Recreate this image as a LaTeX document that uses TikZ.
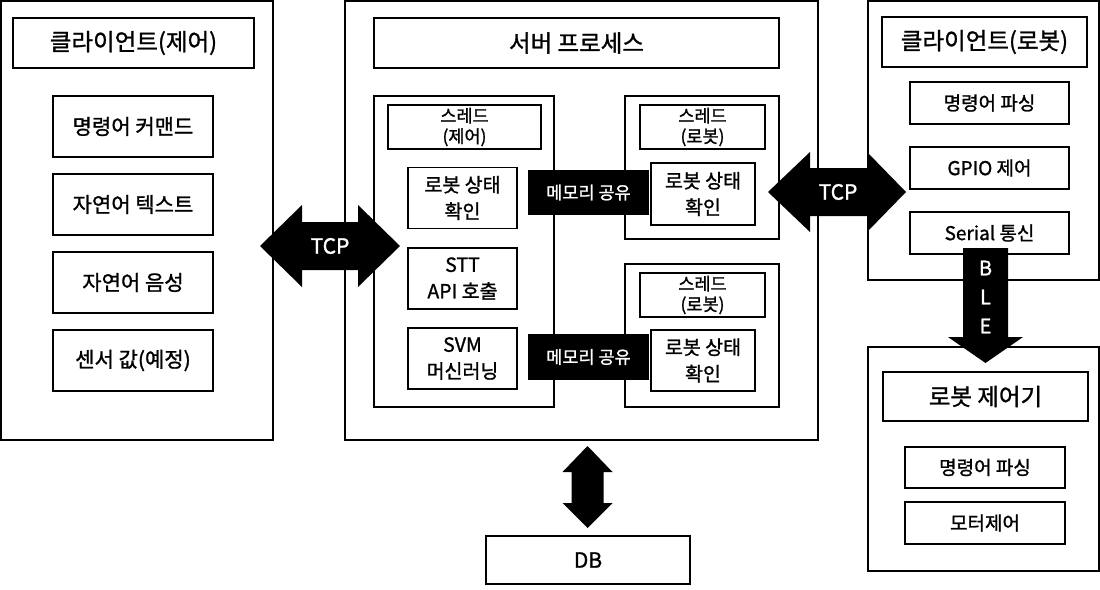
\documentclass[tikz,border=0pt]{standalone}
\usepackage{fontspec}
\setmainfont{Noto Sans CJK KR}[FakeBold=1.2]
\begin{document}
\begin{tikzpicture}[x=1pt,y=-1pt,
  box/.style={draw=black, line width=1.2pt, inner sep=0pt, align=center, fill=white},
  ttl/.style={font=\fontsize{23.5}{27}\selectfont},
  itm/.style={font=\fontsize{21}{26}\selectfont},
  sitm/.style={font=\fontsize{19.5}{26.5}\selectfont},
  hdr/.style={font=\fontsize{17.5}{20.5}\selectfont},
  ritm/.style={font=\fontsize{19}{22}\selectfont},
  mem/.style={fill=black, text=white, inner sep=0pt, font=\fontsize{17.5}{20}\selectfont},
  blk/.style={fill=black, draw=none},
  wlbl/.style={text=white, inner sep=0pt, font=\fontsize{21}{24}\selectfont}]
\useasboundingbox (0,0) rectangle (1100,589);

% ---------- left client ----------
\node[box, minimum width=272pt, minimum height=439pt] (clc) at (137,220.5) {};
\node[box, ttl, minimum width=241pt, minimum height=50pt] (clct) at (133.5,43) {클라이언트(제어)};
\node[box, itm, minimum width=160pt, minimum height=61pt] (cmd) at (133,126.5) {명령어 커맨드};
\node[box, itm, minimum width=160pt, minimum height=61pt] (txt) at (133,204.5) {자연어 텍스트};
\node[box, itm, minimum width=160pt, minimum height=61pt] (voc) at (133,282.5) {자연어 음성};
\node[box, itm, minimum width=160pt, minimum height=61pt] (sen) at (133,360.5) {센서 값(예정)};

% ---------- server ----------
\node[box, minimum width=473pt, minimum height=439pt] (srv) at (581.5,220.5) {};
\node[box, ttl, minimum width=405pt, minimum height=50pt] (srvt) at (576.5,43) {서버 프로세스};
\node[box, minimum width=180pt, minimum height=311pt] (tc) at (464,251.5) {};
\node[box, hdr, minimum width=153pt, minimum height=44pt] (tch) at (464.5,127) {스레드\\(제어)};
\node[box, sitm, minimum width=109pt, minimum height=61pt] (tc1) at (462.5,198) {로봇 상태\\확인};
\node[box, sitm, minimum width=109pt, minimum height=61pt] (tc2) at (462.5,278.5) {STT\\API 호출};
\node[box, sitm, minimum width=109pt, minimum height=61pt] (tc3) at (462.5,358.5) {SVM\\머신러닝};

\node[box, minimum width=154pt, minimum height=143pt] (tr1) at (702,167.5) {};
\node[box, hdr, minimum width=125pt, minimum height=44pt] (tr1h) at (702.5,127) {스레드\\(로봇)};
\node[box, minimum width=154pt, minimum height=143pt] (tr2) at (702,335.5) {};
\node[box, hdr, minimum width=125pt, minimum height=44pt] (tr2h) at (702.5,295) {스레드\\(로봇)};

\node[mem, minimum width=121pt, minimum height=45pt] (m1) at (588.5,192.5) {메모리 공유};
\node[mem, minimum width=121pt, minimum height=46pt] (m2) at (588.5,357) {메모리 공유};

\node[box, sitm, minimum width=104pt, minimum height=62pt] (tr1i) at (703,194) {로봇 상태\\확인};
\node[box, sitm, minimum width=104pt, minimum height=61pt] (tr2i) at (703,360.5) {로봇 상태\\확인};

% ---------- right client ----------
\node[box, minimum width=231pt, minimum height=279pt] (clr) at (983.5,140.5) {};
\node[box, ttl, minimum width=205pt, minimum height=50pt] (clrt) at (984.5,42) {클라이언트(로봇)};
\node[box, ritm, minimum width=159pt, minimum height=42pt] (rp) at (989.5,103) {명령어 파싱};
\node[box, ritm, minimum width=159pt, minimum height=42pt] (rg) at (989.5,168) {GPIO 제어};
\node[box, ritm, minimum width=159pt, minimum height=42pt] (rs) at (989.5,233) {Serial 통신};

% ---------- robot controller ----------
\node[box, minimum width=231pt, minimum height=224pt] (rc) at (983.5,459) {};
\node[box, ttl, minimum width=205pt, minimum height=49pt] (rct) at (985.5,396.5) {로봇 제어기};
\node[box, ritm, minimum width=160pt, minimum height=41pt] (rcp) at (985,467.5) {명령어 파싱};
\node[box, ritm, minimum width=160pt, minimum height=42pt] (rcm) at (985,523) {모터제어};

% ---------- DB ----------
\node[box, itm, minimum width=204pt, minimum height=48pt] (db) at (588,560) {DB};

% ---------- block arrows ----------
\fill[blk] (260,246) -- (302,205) -- (302,222) -- (358,222) -- (358,205) -- (400,246)
  -- (358,287) -- (358,270) -- (302,270) -- (302,287) -- cycle;
\node[wlbl] (tcp1) at (330,246) {TCP};

\fill[blk] (768,192) -- (810,152) -- (810,168) -- (867,168) -- (867,152) -- (906,192)
  -- (867,232) -- (867,216) -- (810,216) -- (810,232) -- cycle;
\node[wlbl] (tcp2) at (838,192) {TCP};

\fill[blk] (963,248) -- (1008,248) -- (1008,337) -- (1023,337) -- (985.5,363)
  -- (948,337) -- (963,337) -- cycle;
\node[wlbl, font=\fontsize{20}{24}\selectfont] (bleb) at (985.5,268) {B};
\node[wlbl, font=\fontsize{20}{24}\selectfont] (blel) at (985.5,297) {L};
\node[wlbl, font=\fontsize{20}{24}\selectfont] (blee) at (985.5,326) {E};

\fill[blk] (587.5,446) -- (612.5,472) -- (603.5,472) -- (603.5,503) -- (612.5,503)
  -- (587.5,528) -- (562.5,503) -- (571.5,503) -- (571.5,472) -- (562.5,472) -- cycle;
\end{tikzpicture}
\end{document}
